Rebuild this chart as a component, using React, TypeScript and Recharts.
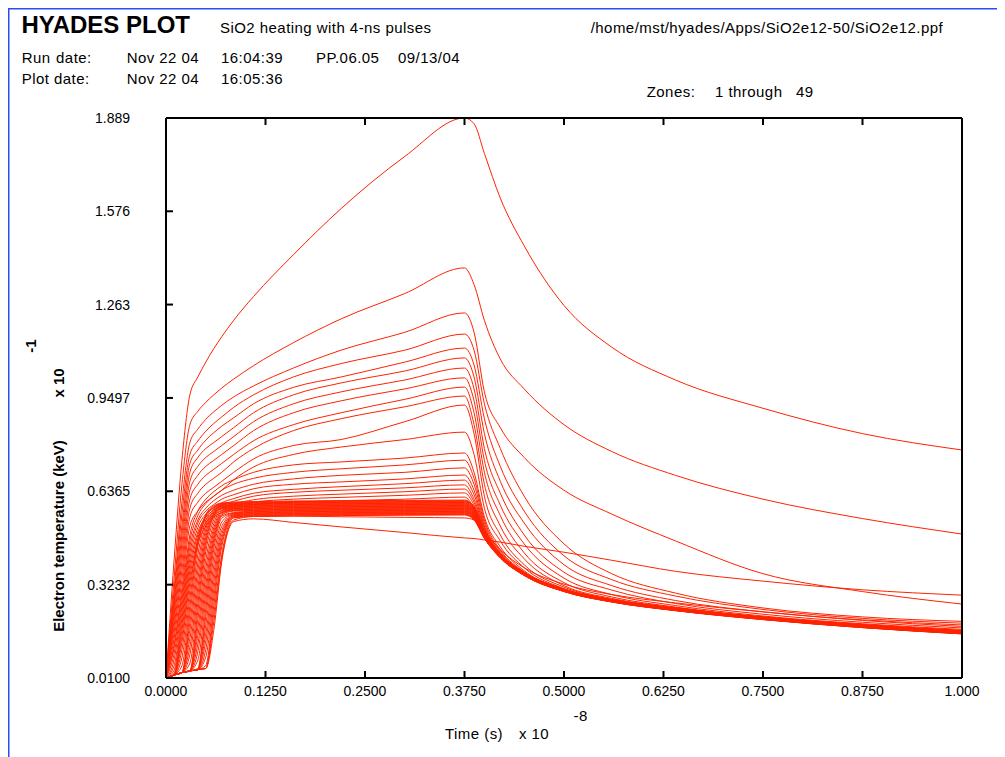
import React from 'react';
import { LineChart, Line, XAxis, YAxis } from 'recharts';

// time axis (units of 1e-8 s)
const timeGrid = [0, 0.01, 0.02, 0.03, 0.04, 0.05, 0.06, 0.07, 0.085, 0.11, 0.16, 0.22, 0.3, 0.375, 0.387, 0.4, 0.42, 0.45, 0.5, 0.56, 0.64, 0.75, 0.875, 1.0];

// electron temperature per zone (keV x 10^-1)
const zone01 = [0.01, 0.40, 0.74, 0.96, 1.02, 1.07, 1.115, 1.155, 1.21, 1.29, 1.43, 1.585, 1.76, 1.889, 1.87, 1.77, 1.62, 1.46, 1.26, 1.12, 1.01, 0.915, 0.83, 0.775];
const zone02 = [0.01, 0.34, 0.66, 0.86, 0.905, 0.935, 0.96, 0.983, 1.013, 1.058, 1.135, 1.215, 1.30, 1.386, 1.33, 1.21, 1.08, 0.98, 0.86, 0.77, 0.69, 0.61, 0.545, 0.493];
const zone03 = [0.01, 0.30, 0.60, 0.80, 0.845, 0.878, 0.903, 0.925, 0.953, 0.99, 1.05, 1.11, 1.17, 1.235, 1.17, 0.97, 0.85, 0.75, 0.64, 0.56, 0.47, 0.36, 0.30, 0.258];
const zone04 = [0.01, 0.28, 0.56, 0.76, 0.805, 0.838, 0.864, 0.886, 0.918, 0.96, 1.02, 1.065, 1.11, 1.164, 1.11, 0.93, 0.78, 0.62, 0.46, 0.36, 0.295, 0.245, 0.215, 0.20];
const zone05 = [0.01, 0.26, 0.52, 0.73, 0.775, 0.808, 0.833, 0.855, 0.883, 0.93, 0.985, 1.02, 1.07, 1.117, 1.06, 0.88, 0.72, 0.57, 0.42, 0.34, 0.285, 0.24, 0.21, 0.194];
const zone06 = [0.01, 0.24, 0.49, 0.70, 0.75, 0.78, 0.80, 0.82, 0.85, 0.90, 0.96, 1.00, 1.04, 1.084, 1.02, 0.83, 0.67, 0.53, 0.39, 0.32, 0.27, 0.232, 0.205, 0.188];
const zone07 = [0.01, 0.22, 0.46, 0.67, 0.72, 0.75, 0.77, 0.79, 0.82, 0.87, 0.93, 0.97, 1.01, 1.05, 0.98, 0.78, 0.63, 0.49, 0.365, 0.305, 0.26, 0.224, 0.197, 0.178];
const zone08 = [0.01, 0.20, 0.43, 0.64, 0.69, 0.72, 0.74, 0.76, 0.79, 0.84, 0.90, 0.94, 0.98, 1.017, 0.94, 0.74, 0.59, 0.46, 0.345, 0.29, 0.253, 0.218, 0.192, 0.173];
const zone09 = [0.01, 0.18, 0.40, 0.61, 0.66, 0.69, 0.71, 0.73, 0.76, 0.806, 0.86, 0.90, 0.945, 0.986, 0.90, 0.70, 0.555, 0.43, 0.33, 0.282, 0.248, 0.215, 0.19, 0.17];
const zone10 = [0.01, 0.16, 0.37, 0.58, 0.63, 0.66, 0.68, 0.70, 0.735, 0.78, 0.84, 0.88, 0.92, 0.956, 0.86, 0.66, 0.52, 0.41, 0.32, 0.277, 0.246, 0.213, 0.188, 0.169];
const zone11 = [0.01, 0.14, 0.34, 0.55, 0.60, 0.63, 0.65, 0.67, 0.70, 0.745, 0.79, 0.81, 0.87, 0.926, 0.83, 0.62, 0.49, 0.39, 0.315, 0.274, 0.245, 0.213, 0.187, 0.168];
const zone12 = [0.01, 0.12, 0.31, 0.52, 0.57, 0.60, 0.62, 0.64, 0.675, 0.718, 0.76, 0.785, 0.81, 0.835, 0.76, 0.58, 0.47, 0.38, 0.31, 0.272, 0.244, 0.212, 0.186, 0.167];
const zone13 = [0.01, 0.11, 0.29, 0.49, 0.57, 0.61, 0.635, 0.655, 0.675, 0.70, 0.725, 0.735, 0.748, 0.765, 0.70, 0.55, 0.45, 0.37, 0.308, 0.271, 0.242, 0.214, 0.187, 0.167];
const zone14 = [0.01, 0.09, 0.27, 0.47, 0.555, 0.595, 0.62, 0.64, 0.66, 0.68, 0.70, 0.712, 0.725, 0.741, 0.68, 0.54, 0.44, 0.366, 0.307, 0.271, 0.242, 0.214, 0.187, 0.167];
const zone15 = [0.01, 0.07, 0.25, 0.45, 0.54, 0.58, 0.605, 0.623, 0.64, 0.66, 0.678, 0.69, 0.70, 0.715, 0.66, 0.53, 0.435, 0.364, 0.306, 0.27, 0.241, 0.213, 0.186, 0.166];
const zone16 = [0.01, 0.05, 0.23, 0.43, 0.53, 0.57, 0.592, 0.61, 0.625, 0.645, 0.66, 0.668, 0.678, 0.691, 0.64, 0.52, 0.43, 0.362, 0.306, 0.27, 0.241, 0.213, 0.186, 0.166];
const zone17 = [0.01, 0.035, 0.21, 0.41, 0.515, 0.56, 0.582, 0.598, 0.612, 0.63, 0.643, 0.652, 0.662, 0.674, 0.625, 0.515, 0.428, 0.361, 0.305, 0.27, 0.241, 0.213, 0.186, 0.166];
const zone18 = [0.01, 0.025, 0.19, 0.39, 0.50, 0.55, 0.573, 0.59, 0.603, 0.62, 0.633, 0.64, 0.648, 0.658, 0.61, 0.51, 0.425, 0.36, 0.305, 0.27, 0.24, 0.212, 0.185, 0.165];
const zone19 = [0.01, 0.02, 0.17, 0.37, 0.49, 0.54, 0.565, 0.58, 0.594, 0.608, 0.62, 0.627, 0.635, 0.644, 0.60, 0.505, 0.423, 0.36, 0.305, 0.27, 0.24, 0.212, 0.185, 0.165];
const zone20 = [0.01, 0.02, 0.15, 0.35, 0.475, 0.53, 0.557, 0.572, 0.586, 0.60, 0.61, 0.616, 0.623, 0.631, 0.59, 0.50, 0.422, 0.36, 0.305, 0.27, 0.24, 0.212, 0.185, 0.165];
const zone21 = [0.01, 0.02, 0.13, 0.33, 0.46, 0.52, 0.55, 0.565, 0.578, 0.592, 0.60, 0.605, 0.61, 0.617, 0.58, 0.495, 0.421, 0.36, 0.305, 0.27, 0.24, 0.212, 0.185, 0.165];
const zone22 = [0.01, 0.02, 0.105, 0.305, 0.478, 0.558, 0.588, 0.597, 0.60, 0.602, 0.604, 0.605, 0.606, 0.607, 0.585, 0.500, 0.425, 0.364, 0.308, 0.273, 0.243, 0.214, 0.187, 0.167];
const zone23 = [0.01, 0.02, 0.078, 0.278, 0.464, 0.554, 0.584, 0.595, 0.598, 0.600, 0.602, 0.603, 0.604, 0.605, 0.583, 0.499, 0.425, 0.364, 0.308, 0.273, 0.243, 0.214, 0.187, 0.167];
const zone24 = [0.01, 0.02, 0.051, 0.251, 0.45, 0.55, 0.58, 0.593, 0.596, 0.598, 0.600, 0.601, 0.602, 0.603, 0.581, 0.498, 0.424, 0.363, 0.307, 0.272, 0.242, 0.213, 0.186, 0.166];
const zone25 = [0.01, 0.02, 0.028, 0.224, 0.424, 0.537, 0.576, 0.591, 0.594, 0.596, 0.598, 0.599, 0.600, 0.601, 0.580, 0.497, 0.424, 0.363, 0.307, 0.272, 0.242, 0.213, 0.186, 0.166];
const zone26 = [0.01, 0.02, 0.028, 0.196, 0.396, 0.523, 0.572, 0.589, 0.592, 0.594, 0.596, 0.597, 0.598, 0.599, 0.578, 0.496, 0.423, 0.362, 0.307, 0.272, 0.242, 0.213, 0.186, 0.166];
const zone27 = [0.01, 0.02, 0.028, 0.17, 0.37, 0.51, 0.568, 0.587, 0.59, 0.592, 0.594, 0.595, 0.596, 0.597, 0.576, 0.496, 0.423, 0.362, 0.306, 0.271, 0.242, 0.212, 0.185, 0.165];
const zone28 = [0.01, 0.02, 0.028, 0.142, 0.342, 0.496, 0.564, 0.585, 0.588, 0.590, 0.592, 0.593, 0.594, 0.595, 0.574, 0.495, 0.422, 0.362, 0.306, 0.271, 0.241, 0.212, 0.185, 0.165];
const zone29 = [0.01, 0.02, 0.028, 0.114, 0.314, 0.482, 0.56, 0.583, 0.586, 0.588, 0.590, 0.591, 0.592, 0.593, 0.572, 0.494, 0.422, 0.361, 0.306, 0.271, 0.241, 0.212, 0.185, 0.164];
const zone30 = [0.01, 0.02, 0.028, 0.088, 0.288, 0.469, 0.556, 0.581, 0.584, 0.586, 0.588, 0.589, 0.590, 0.591, 0.571, 0.493, 0.421, 0.361, 0.305, 0.270, 0.241, 0.211, 0.184, 0.164];
const zone31 = [0.01, 0.02, 0.028, 0.06, 0.26, 0.455, 0.552, 0.579, 0.582, 0.584, 0.586, 0.587, 0.588, 0.589, 0.569, 0.492, 0.421, 0.360, 0.305, 0.270, 0.240, 0.211, 0.184, 0.164];
const zone32 = [0.01, 0.02, 0.028, 0.034, 0.234, 0.434, 0.542, 0.577, 0.58, 0.582, 0.584, 0.585, 0.586, 0.587, 0.567, 0.491, 0.420, 0.360, 0.305, 0.270, 0.240, 0.211, 0.184, 0.163];
const zone33 = [0.01, 0.02, 0.028, 0.034, 0.206, 0.406, 0.528, 0.573, 0.578, 0.580, 0.582, 0.583, 0.584, 0.585, 0.565, 0.490, 0.420, 0.360, 0.304, 0.269, 0.240, 0.210, 0.183, 0.163];
const zone34 = [0.01, 0.02, 0.028, 0.034, 0.178, 0.378, 0.514, 0.569, 0.576, 0.578, 0.580, 0.581, 0.582, 0.583, 0.563, 0.489, 0.419, 0.359, 0.304, 0.269, 0.240, 0.210, 0.183, 0.163];
const zone35 = [0.01, 0.02, 0.028, 0.034, 0.152, 0.352, 0.501, 0.565, 0.574, 0.576, 0.578, 0.579, 0.580, 0.581, 0.562, 0.489, 0.419, 0.359, 0.304, 0.269, 0.239, 0.210, 0.183, 0.162];
const zone36 = [0.01, 0.02, 0.028, 0.034, 0.124, 0.324, 0.487, 0.561, 0.572, 0.574, 0.576, 0.577, 0.578, 0.579, 0.560, 0.488, 0.418, 0.358, 0.304, 0.269, 0.239, 0.210, 0.183, 0.162];
const zone37 = [0.01, 0.02, 0.028, 0.034, 0.098, 0.298, 0.474, 0.557, 0.57, 0.572, 0.574, 0.575, 0.576, 0.577, 0.558, 0.487, 0.418, 0.358, 0.303, 0.268, 0.239, 0.209, 0.182, 0.162];
const zone38 = [0.01, 0.02, 0.028, 0.034, 0.07, 0.27, 0.46, 0.553, 0.565, 0.570, 0.572, 0.573, 0.574, 0.575, 0.556, 0.486, 0.417, 0.358, 0.303, 0.268, 0.239, 0.209, 0.182, 0.161];
const zone39 = [0.01, 0.02, 0.028, 0.034, 0.042, 0.242, 0.442, 0.546, 0.563, 0.568, 0.570, 0.571, 0.572, 0.573, 0.554, 0.485, 0.417, 0.357, 0.303, 0.268, 0.238, 0.209, 0.182, 0.161];
const zone40 = [0.01, 0.02, 0.028, 0.034, 0.038, 0.216, 0.416, 0.533, 0.561, 0.566, 0.568, 0.569, 0.570, 0.571, 0.553, 0.484, 0.416, 0.357, 0.302, 0.267, 0.238, 0.208, 0.181, 0.161];
const zone41 = [0.01, 0.02, 0.028, 0.034, 0.038, 0.188, 0.388, 0.519, 0.559, 0.564, 0.566, 0.567, 0.568, 0.569, 0.551, 0.483, 0.416, 0.356, 0.302, 0.267, 0.238, 0.208, 0.181, 0.160];
const zone42 = [0.01, 0.02, 0.028, 0.034, 0.038, 0.16, 0.36, 0.505, 0.557, 0.562, 0.564, 0.565, 0.566, 0.567, 0.549, 0.482, 0.415, 0.356, 0.302, 0.267, 0.237, 0.208, 0.181, 0.160];
const zone43 = [0.01, 0.02, 0.028, 0.034, 0.038, 0.134, 0.334, 0.492, 0.555, 0.560, 0.562, 0.563, 0.564, 0.565, 0.547, 0.482, 0.415, 0.356, 0.301, 0.266, 0.237, 0.207, 0.180, 0.159];
const zone44 = [0.01, 0.02, 0.028, 0.034, 0.038, 0.106, 0.306, 0.478, 0.553, 0.558, 0.560, 0.561, 0.562, 0.563, 0.545, 0.481, 0.414, 0.355, 0.301, 0.266, 0.237, 0.207, 0.180, 0.159];
const zone45 = [0.01, 0.02, 0.028, 0.034, 0.038, 0.08, 0.28, 0.465, 0.551, 0.556, 0.558, 0.559, 0.560, 0.561, 0.544, 0.480, 0.414, 0.355, 0.301, 0.266, 0.237, 0.207, 0.180, 0.159];
const zone46 = [0.01, 0.02, 0.028, 0.034, 0.038, 0.052, 0.252, 0.451, 0.549, 0.554, 0.556, 0.557, 0.558, 0.559, 0.542, 0.479, 0.413, 0.354, 0.300, 0.265, 0.236, 0.206, 0.179, 0.158];
const zone47 = [0.01, 0.02, 0.028, 0.034, 0.038, 0.042, 0.224, 0.424, 0.547, 0.552, 0.554, 0.555, 0.556, 0.557, 0.540, 0.478, 0.413, 0.354, 0.300, 0.265, 0.236, 0.206, 0.179, 0.158];
const zone48 = [0.01, 0.02, 0.028, 0.034, 0.038, 0.042, 0.198, 0.41, 0.54, 0.552, 0.553, 0.551, 0.549, 0.547, 0.54, 0.50, 0.44, 0.38, 0.325, 0.29, 0.262, 0.232, 0.203, 0.183];
const zone49 = [0.01, 0.02, 0.028, 0.034, 0.038, 0.042, 0.17, 0.40, 0.535, 0.544, 0.532, 0.517, 0.498, 0.48, 0.478, 0.473, 0.466, 0.452, 0.432, 0.405, 0.368, 0.335, 0.306, 0.288];

const zones = [
  zone01, zone02, zone03, zone04, zone05, zone06, zone07, zone08, zone09, zone10,
  zone11, zone12, zone13, zone14, zone15, zone16, zone17, zone18, zone19, zone20,
  zone21, zone22, zone23, zone24, zone25, zone26, zone27, zone28, zone29, zone30,
  zone31, zone32, zone33, zone34, zone35, zone36, zone37, zone38, zone39, zone40,
  zone41, zone42, zone43, zone44, zone45, zone46, zone47, zone48, zone49,
];

const xTicks = [0, 0.125, 0.25, 0.375, 0.5, 0.625, 0.75, 0.875, 1.0];
const xTickLabels = ['0.0000', '0.1250', '0.2500', '0.3750', '0.5000', '0.6250', '0.7500', '0.8750', '1.000'];
const yTicks = [0.01, 0.3232, 0.6365, 0.9497, 1.263, 1.576, 1.889];
const yTickLabels = ['0.0100', '0.3232', '0.6365', '0.9497', '1.263', '1.576', '1.889'];

const rows = timeGrid.map((t, i) => {
  const row: Record<string, number> = { t };
  zones.forEach((z, k) => {
    row[`z${k + 1}`] = z[i];
  });
  return row;
});

const FONT = "'Liberation Sans', Arial, Helvetica, sans-serif";
const LINE_RED = '#ff2200';
const FRAME_BLUE = '#2b4cf2';
const axisStyle = { stroke: '#000', strokeWidth: 2 };

// ticks point into the plot, like the original
const BottomTick = (props: any) => {
  const { x, y, payload } = props;
  const label = xTickLabels[xTicks.indexOf(payload.value)];
  return (
    <g>
      <line x1={x} y1={y} x2={x} y2={y - 7} stroke="#000" strokeWidth={2} />
      <text x={x} y={y + 18} textAnchor="middle" fontSize={14} fontFamily={FONT} fill="#000">
        {label}
      </text>
    </g>
  );
};

const TopTick = (props: any) => {
  const { x, y } = props;
  return <line x1={x} y1={y} x2={x} y2={y + 7} stroke="#000" strokeWidth={2} />;
};

const LeftTick = (props: any) => {
  const { x, y, payload } = props;
  const label = yTickLabels[yTicks.indexOf(payload.value)];
  return (
    <g>
      <line x1={x} y1={y} x2={x + 7} y2={y} stroke="#000" strokeWidth={2} />
      <text x={x - 36} y={y + 5} textAnchor="end" fontSize={14} fontFamily={FONT} fill="#000">
        {label}
      </text>
    </g>
  );
};

const RightTick = (props: any) => {
  const { x, y } = props;
  return <line x1={x} y1={y} x2={x - 7} y2={y} stroke="#000" strokeWidth={2} />;
};

const hdr = { fontFamily: FONT, fontSize: 15, fill: '#000', letterSpacing: 0.45 } as const;

export default function App() {
  return (
    <div style={{ position: 'relative', width: 997, height: 749, background: '#fff' }}>
      <div style={{ position: 'absolute', left: 0, top: 0 }}>
        <LineChart width={997} height={749} data={rows} margin={{ top: 100, right: 33, bottom: 49, left: 98 }}>
          <XAxis
            xAxisId="b"
            dataKey="t"
            type="number"
            domain={[0, 1]}
            ticks={xTicks}
            interval={0}
            height={30}
            tickSize={0}
            tickMargin={0}
            tickLine={false}
            axisLine={axisStyle}
            tick={BottomTick}
          />
          <XAxis
            xAxisId="t"
            orientation="top"
            dataKey="t"
            type="number"
            domain={[0, 1]}
            ticks={xTicks}
            interval={0}
            height={10}
            tickSize={0}
            tickMargin={0}
            tickLine={false}
            axisLine={axisStyle}
            tick={TopTick}
          />
          <YAxis
            yAxisId="l"
            type="number"
            domain={[0.01, 1.889]}
            ticks={yTicks}
            interval={0}
            width={60}
            tickSize={0}
            tickMargin={0}
            tickLine={false}
            axisLine={axisStyle}
            tick={LeftTick}
          />
          <YAxis
            yAxisId="r"
            orientation="right"
            type="number"
            domain={[0.01, 1.889]}
            ticks={yTicks}
            interval={0}
            width={10}
            tickSize={0}
            tickMargin={0}
            tickLine={false}
            axisLine={axisStyle}
            tick={RightTick}
          />
          {zones.map((_, k) => (
            <Line
              key={k}
              xAxisId="b"
              yAxisId="l"
              type="monotoneX"
              dataKey={`z${k + 1}`}
              stroke={LINE_RED}
              strokeWidth={1}
              dot={false}
              activeDot={false}
              isAnimationActive={false}
            />
          ))}
        </LineChart>
      </div>

      <svg width={997} height={749} style={{ position: 'absolute', left: 0, top: 0, pointerEvents: 'none' }}>
        {/* blue window frame, top and left edges */}
        <line x1={0} y1={0.75} x2={997} y2={0.75} stroke={FRAME_BLUE} strokeWidth={1.5} />
        <line x1={0.75} y1={0} x2={0.75} y2={749} stroke={FRAME_BLUE} strokeWidth={1.5} />

        <text x={13.5} y={25.3} fontFamily={FONT} fontSize={24} fontWeight="bold" fill="#000">HYADES PLOT</text>
        <text x={212} y={25} {...hdr}>SiO2 heating with 4-ns pulses</text>
        <text x={582.7} y={25.3} {...hdr}>/home/mst/hyades/Apps/SiO2e12-50/SiO2e12.ppf</text>

        <text x={13.7} y={55.3} {...hdr}>Run</text>
        <text x={83.7} y={55.3} textAnchor="end" {...hdr}>date:</text>
        <text x={118.7} y={55.3} {...hdr}>Nov 22 04</text>
        <text x={213} y={55.3} {...hdr}>16:04:39</text>
        <text x={308} y={55.3} {...hdr}>PP.06.05</text>
        <text x={390} y={55.3} {...hdr}>09/13/04</text>

        <text x={13.7} y={76.3} {...hdr}>Plot date:</text>
        <text x={118.7} y={76.3} {...hdr}>Nov 22 04</text>
        <text x={213} y={76.3} {...hdr}>16:05:36</text>

        <text x={638.7} y={89.3} {...hdr}>Zones:</text>
        <text x={707} y={89.3} {...hdr}>1 through</text>
        <text x={788} y={89.3} {...hdr}>49</text>

        <text x={437} y={731} {...hdr}>Time (s)</text>
        <text x={511} y={731} {...hdr}>x 10</text>
        <text x={565.5} y={713} {...hdr}>-8</text>

        <text x={56} y={528} transform="rotate(-90 56 528)" textAnchor="middle" fontFamily={FONT} fontSize={15} fontWeight="bold" fill="#000">
          Electron temperature (keV)
        </text>
        <text x={56} y={375} transform="rotate(-90 56 375)" textAnchor="middle" fontFamily={FONT} fontSize={15} fontWeight="bold" fill="#000">
          x 10
        </text>
        <text x={28} y={338} transform="rotate(-90 28 338)" textAnchor="middle" fontFamily={FONT} fontSize={15} fontWeight="bold" fill="#000">
          -1
        </text>
      </svg>
    </div>
  );
}
